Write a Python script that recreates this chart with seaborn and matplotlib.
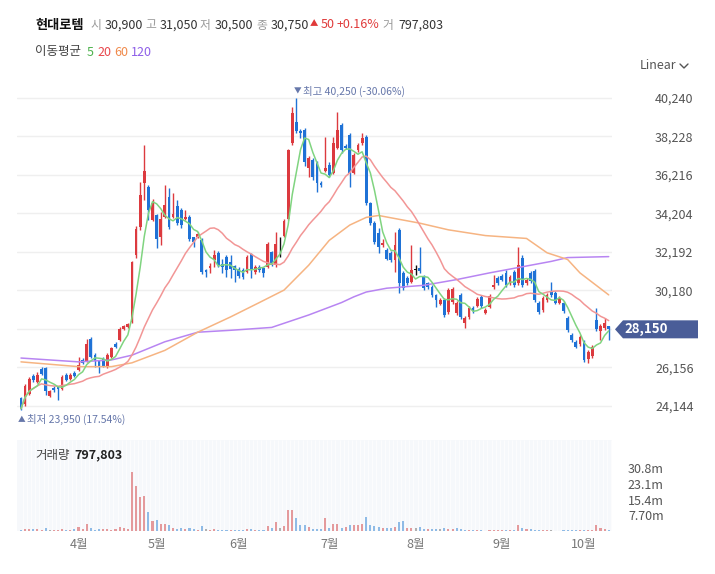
import numpy as np
import pandas as pd
import matplotlib.pyplot as plt
import matplotlib.transforms as mtransforms
from matplotlib.patches import Polygon
from matplotlib.lines import Line2D
import seaborn as sns

# daily candles, 144 trading days
opens = [
    24550, 24250, 24750, 25700, 25400, 26100, 26150, 24650, 25100, 25150,
    25050, 25750, 25550, 25850, 26000, 26550, 26500, 27650, 26800, 26500,
    26600, 26250, 26700, 27400, 27600, 28150, 28250, 28550, 32050, 33500,
    35800, 35600, 33850, 34100, 32950, 34000, 35050, 34000, 34600, 34400,
    33900, 34000, 32950, 32950, 32800, 31250, 31350, 31750, 32150, 31550,
    31950, 31650, 31450, 31300, 31250, 31150, 32100, 31150, 31400, 31350,
    31400, 32200, 31500, 32600, 33050, 33900, 37900, 39000, 38500, 38550,
    36600, 37000, 36850, 35800, 36450, 36750, 36300, 37650, 38850, 37750,
    38300, 36300, 37500, 37900, 38200, 34750, 33700, 33200, 32550, 32300,
    32150, 31750, 33350, 31100, 30850, 30600, 31250, 31350, 30900, 30550,
    30350, 29950, 29450, 29700, 29050, 29600, 29000, 29950, 28500, 28800,
    29250, 29350, 29850, 29000, 29300, 30350, 30850, 30950, 31100, 30550,
    31150, 30550, 31900, 30550, 31100, 31200, 29550, 29150, 29700, 30100,
    30050, 29550, 29550, 28750, 27850, 27500, 27400, 27500, 26600, 26750,
    28650, 28050, 28200, 28300]
highs = [
    24600, 25300, 25650, 25800, 25900, 26200, 26200, 25000, 25200, 25200,
    25750, 25850, 25850, 25950, 26700, 26650, 27650, 27750, 26900, 26550,
    26700, 26900, 27250, 27500, 28250, 28400, 28500, 31700, 33550, 35850,
    37800, 35700, 34950, 34200, 34300, 35700, 35550, 35250, 34900, 34500,
    34400, 34100, 33000, 33250, 32900, 31300, 31600, 32300, 32250, 31800,
    32050, 32050, 31500, 31400, 31350, 32050, 32150, 31500, 31500, 31400,
    32700, 32250, 33250, 32950, 33900, 37600, 39750, 40250, 38600, 38650,
    37200, 37100, 36950, 35900, 38200, 36900, 38200, 39500, 38950, 37850,
    38400, 37350, 37900, 38400, 38300, 34800, 33800, 33450, 32850, 32400,
    32250, 33250, 33450, 31200, 30950, 32550, 31500, 32450, 31000, 30600,
    30450, 30000, 29800, 29800, 30300, 30350, 29650, 30050, 28850, 29350,
    29350, 29850, 29950, 29250, 30000, 31000, 30950, 31050, 31250, 31000,
    31250, 32450, 32050, 30850, 31200, 31300, 29650, 29900, 30050, 30600,
    30150, 29900, 29650, 28850, 27950, 27600, 27850, 27600, 27050, 27350,
    29250, 28450, 28750, 28350]
lows = [
    23950, 24150, 24700, 25400, 25350, 25750, 24700, 24600, 24900, 24450,
    25000, 25450, 25500, 25650, 25950, 26350, 26450, 26650, 26200, 25850,
    26200, 26150, 26650, 27150, 27550, 28100, 28200, 28500, 31900, 33350,
    34900, 33850, 33800, 32400, 32550, 33950, 33400, 33950, 33600, 33450,
    33850, 32750, 32450, 32900, 31050, 30900, 31100, 31400, 31400, 31100,
    30900, 30850, 30600, 30850, 30800, 31100, 30850, 31050, 31150, 30900,
    31350, 31450, 31400, 31950, 32950, 33850, 37800, 38400, 38150, 36700,
    36100, 35950, 35350, 35600, 36350, 36100, 36250, 37550, 37350, 37550,
    35600, 36250, 37400, 37800, 34650, 33600, 32600, 32150, 32450, 31750,
    31650, 31150, 30050, 30200, 30450, 30550, 31000, 31100, 30200, 30250,
    29850, 29300, 29400, 28800, 28950, 29500, 28900, 28700, 28200, 28700,
    29000, 29300, 29250, 28950, 29250, 30250, 30450, 30650, 30350, 30450,
    30350, 30450, 30350, 30450, 30550, 29600, 28950, 29050, 29600, 29850,
    29450, 29450, 29000, 28000, 27500, 27150, 27300, 26450, 26400, 26650,
    28050, 27600, 28100, 27600]
closes = [
    24000, 25200, 25550, 25500, 25750, 25800, 24950, 24950, 25000, 25050,
    25650, 25500, 25750, 25700, 26300, 26400, 27400, 26700, 26500, 26200,
    26250, 26800, 27150, 27250, 28150, 28300, 28450, 31650, 33400, 35150,
    36400, 34400, 34750, 32850, 33900, 34650, 33500, 34200, 33700, 33600,
    34000, 32850, 32700, 33150, 31150, 31150, 31450, 32050, 31500, 31400,
    31250, 31300, 31250, 30950, 30900, 31950, 31250, 31400, 31250, 31100,
    32600, 31500, 32600, 32600, 33800, 37500, 39450, 38500, 38400, 36900,
    37100, 36100, 35800, 35700, 36600, 36200, 37900, 38550, 37500, 37650,
    36300, 37250, 37800, 38150, 34750, 33700, 32700, 32450, 32650, 31850,
    31750, 32550, 30550, 30300, 30550, 31250, 31250, 31200, 30300, 30350,
    29950, 29700, 29700, 28900, 30200, 30250, 29550, 28800, 28750, 29250,
    29100, 29750, 29350, 29150, 29900, 30450, 30550, 30750, 30450, 30900,
    30450, 31500, 30450, 30750, 30650, 29700, 29050, 29800, 29950, 29950,
    29550, 29800, 29100, 28100, 27600, 27250, 27750, 26550, 26950, 27250,
    28150, 28300, 28500, 28150]
# volume, same unit as the axis labels ("m")
volumes = [
    0.5, 0.8, 0.8, 0.8, 0.8, 0.7, 1.3, 0.5, 0.5, 0.5,
    1.0, 0.7, 0.7, 0.8, 1.8, 1.0, 3.3, 1.3, 0.7, 0.8,
    0.8, 1.2, 0.7, 1.0, 2.1, 1.3, 1.2, 28.8, 22.2, 16.5,
    17.3, 9.4, 4.9, 5.4, 3.3, 3.3, 3.0, 1.6, 1.0, 1.3,
    1.2, 1.3, 1.0, 0.7, 2.5, 0.8, 0.7, 0.8, 0.5, 0.5,
    0.5, 0.5, 0.3, 0.3, 0.5, 0.8, 0.8, 0.7, 0.5, 0.7,
    2.5, 1.6, 4.4, 1.6, 2.5, 10.2, 10.2, 6.3, 2.8, 3.0,
    2.0, 1.2, 1.2, 1.2, 6.3, 1.6, 3.3, 3.3, 1.6, 1.8,
    3.0, 2.8, 2.8, 3.3, 6.9, 2.8, 2.3, 2.0, 1.3, 1.3,
    1.3, 2.0, 4.4, 4.9, 1.3, 1.3, 1.3, 2.0, 1.0, 1.0,
    0.8, 0.8, 1.0, 1.3, 1.0, 0.8, 1.3, 0.8, 0.5, 0.5,
    0.5, 0.5, 0.3, 0.2, 0.3, 0.7, 0.5, 0.5, 0.5, 0.5,
    0.5, 3.0, 1.6, 1.0, 1.0, 0.7, 0.5, 0.5, 0.3, 0.3,
    0.2, 0.2, 0.3, 0.3, 0.3, 0.3, 0.3, 0.3, 0.5, 0.3,
    2.8, 1.3, 0.8, 0.7]

# long moving averages (they need history before the window)
ma60_idx = [0, 14, 22, 27, 35, 43, 51, 58, 64, 70, 75, 80, 84, 87, 97, 104, 113, 123, 128, 133, 136, 143]
ma60_val = [26450, 26200, 26200, 26400, 27050, 28000, 28800, 29550, 30200, 31500, 32800,
            33600, 34000, 34100, 33700, 33350, 33050, 32900, 32150, 31800, 31100, 29950]
ma120_idx = [0, 14, 22, 27, 35, 43, 51, 61, 70, 78, 81, 84, 89, 98, 106, 114, 129, 133, 143]
ma120_val = [26650, 26450, 26550, 26800, 27500, 28000, 28100, 28250, 28900, 29550, 29850,
             30100, 30300, 30450, 30750, 31100, 31700, 31900, 31950]

price_ticks = [24144, 26156, 28168, 30180, 32192, 34204, 36216, 38228, 40240]
vol_ticks = [7.7, 15.4, 23.1, 30.8]
vol_tick_labels = ['7.70m', '15.4m', '23.1m', '30.8m']
month_idx = [14, 33, 53, 75, 96, 117, 137]
month_names = ['4월', '5월', '6월', '7월', '8월', '9월', '10월']

header_name = '현대로템'
header_items = [('시', '30,900'), ('고', '31,050'), ('저', '30,500'), ('종', '30,750')]
header_change = ('▲', '50', '+0.16%')
header_volume = ('거', '797,803')
ma_periods = ['5', '20', '60', '120']

sns.set_style('white')
plt.rcParams['font.family'] = ['Noto Sans CJK KR', 'DejaVu Sans']

df = pd.DataFrame({'open': opens, 'high': highs, 'low': lows, 'close': closes, 'vol': volumes})
df['ma5'] = df['close'].rolling(5, min_periods=1).mean()
df['ma20'] = df['close'].rolling(20, min_periods=1).mean()
x = np.arange(len(df))

UP, DOWN, FLAT = '#dc3a3f', '#1f72d6', '#111111'
VUP, VDOWN, VFLAT = '#e49a9c', '#8fbbe6', '#b0b0b0'
candle_cols = np.where(df['close'] > df['open'], UP, np.where(df['close'] < df['open'], DOWN, FLAT))
diff = df['close'].diff().fillna(df['close'] - df['open'])
vol_cols = np.where(diff > 0, VUP, np.where(diff < 0, VDOWN, VFLAT))

W, H = 715, 574
fig = plt.figure(figsize=(W / 100, H / 100), dpi=100)
ax = fig.add_axes([17 / W, (H - 420) / H, 595 / W, 335 / H])
axv = fig.add_axes([17 / W, (H - 531) / H, 595 / W, 91 / H])

# price panel
ax.set_xlim(-0.97, len(df) - 0.2)
ax.set_ylim(23412, 40919)
ax.vlines(x, df['low'], df['high'], colors=candle_cols, lw=1, zorder=2)
body = np.maximum((df['close'] - df['open']).abs(), 30)
ax.bar(x, body, bottom=np.minimum(df['open'], df['close']), width=0.68,
       color=candle_cols, linewidth=0, zorder=3)

sns.lineplot(x=ma120_idx, y=ma120_val, ax=ax, color='#b885f2', lw=1.1, zorder=4, estimator=None)
sns.lineplot(x=ma60_idx, y=ma60_val, ax=ax, color='#f6b482', lw=1.1, zorder=4, estimator=None)
sns.lineplot(x=x, y=df['ma20'], ax=ax, color='#f29696', lw=1.1, zorder=4, estimator=None)
sns.lineplot(x=x, y=df['ma5'], ax=ax, color='#80d480', lw=1.1, zorder=5, estimator=None)

ax.set_yticks(price_ticks)
ax.set_yticklabels(['' if t == 28168 else f'{t:,}' for t in price_ticks])
ax.yaxis.tick_right()
ax.tick_params(axis='y', length=0, pad=31, labelsize=9, labelcolor='#555555')
ax.set_xticks([])
ax.grid(axis='y', color='#efefef', lw=1)
ax.set_axisbelow(True)
ax.set_xlabel('')
ax.set_ylabel('')
for s in ax.spines.values():
    s.set_visible(False)

# max / min markers
last = df['close'].iloc[-1]
i_hi, i_lo = int(df['high'].idxmax()), int(df['low'].idxmin())
hi, lo = df['high'].max(), df['low'].min()
note_col = '#6677aa'
ax.annotate('▼', (i_hi, hi), xytext=(1, 6), textcoords='offset pixels',
            ha='center', va='center', fontsize=5.5, color=note_col)
ax.annotate(f'최고 {hi:,} ({(last - hi) / hi * 100:.2f}%)', (i_hi, hi), xytext=(7, 6),
            textcoords='offset pixels', ha='left', va='center', fontsize=7.5, color=note_col)
ax.annotate('▲', (i_lo, lo), xytext=(1, -10), textcoords='offset pixels',
            ha='center', va='center', fontsize=5.5, color=note_col)
ax.annotate(f'최저 {lo:,} ({(last - lo) / lo * 100:.2f}%)', (i_lo, lo), xytext=(6, -10),
            textcoords='offset pixels', ha='left', va='center', fontsize=7.5, color=note_col)

# last price tag
blend = mtransforms.blended_transform_factory(fig.transFigure, ax.transData)
dh = 9 * (40240 - 24144) / 308
tag = Polygon([(615 / W, last), (623 / W, last + dh), (698 / W, last + dh),
               (698 / W, last - dh), (623 / W, last - dh)],
              closed=True, transform=blend, clip_on=False, facecolor='#4a5d98',
              edgecolor='none', zorder=10)
ax.add_patch(tag)
ax.text(646 / W, last, f'{last:,}', transform=blend, ha='center', va='center',
        color='white', fontsize=9.5, fontweight='bold', zorder=11)

# volume panel
axv.set_facecolor('#f6f8fb')
axv.set_xlim(ax.get_xlim())
axv.set_ylim(0, 44.7)
axv.vlines(x + 0.5, 0, 44.7, colors='white', lw=0.5, zorder=0)
axv.bar(x, df['vol'], width=0.5, color=vol_cols, linewidth=0, zorder=2)
axv.yaxis.tick_right()
axv.set_yticks(vol_ticks)
axv.set_yticklabels(vol_tick_labels)
axv.tick_params(axis='y', length=0, pad=11.5, labelsize=9, labelcolor='#555555')
axv.set_xticks(month_idx)
axv.set_xticklabels(month_names)
axv.tick_params(axis='x', length=0, pad=5, labelsize=9, labelcolor='#777777')
for s in axv.spines.values():
    s.set_visible(False)
axv.text(35 / W, 1 - 455 / H, '거래량', transform=fig.transFigure, ha='left', va='center',
         fontsize=9, color='#444444')
axv.text(74 / W, 1 - 455 / H, header_volume[1], transform=fig.transFigure, ha='left',
         va='center', fontsize=9, color='#222222', fontweight='bold')


def ftext(px, py, s, **kw):
    fig.text(px / W, 1 - py / H, s, ha='left', va='center', **kw)


# header
ftext(35, 25, header_name, fontsize=9.5, fontweight='bold', color='#111111')
xs = [90, 145, 200, 256]
for (lab, val), px in zip(header_items, xs):
    ftext(px, 25, lab, fontsize=8.5, color='#999999')
    ftext(px + 15, 25, val, fontsize=9, color='#333333')
ftext(310, 24, header_change[0], fontsize=6, color='#e03a3a')
ftext(321, 25, header_change[1], fontsize=9, color='#e03a3a')
ftext(337, 25, header_change[2], fontsize=9, color='#e03a3a')
ftext(382, 25, header_volume[0], fontsize=8.5, color='#999999')
ftext(398, 25, header_volume[1], fontsize=9, color='#333333')

ftext(35, 52, '이동평균', fontsize=9, color='#444444')
ma_label_cols = ['#4db24d', '#e8474c', '#f08a4b', '#8e5fe8']
for lab, px, c in zip(ma_periods, [87, 97, 114, 131], ma_label_cols):
    ftext(px, 52, lab, fontsize=9, color=c)

ftext(640, 66, 'Linear', fontsize=9, color='#555555')
fig.add_artist(Line2D([680 / W, 684 / W, 688 / W], [1 - 64 / H, 1 - 68 / H, 1 - 64 / H],
                      transform=fig.transFigure, color='#555555', lw=1))

fig.savefig('out.png', dpi=100)
